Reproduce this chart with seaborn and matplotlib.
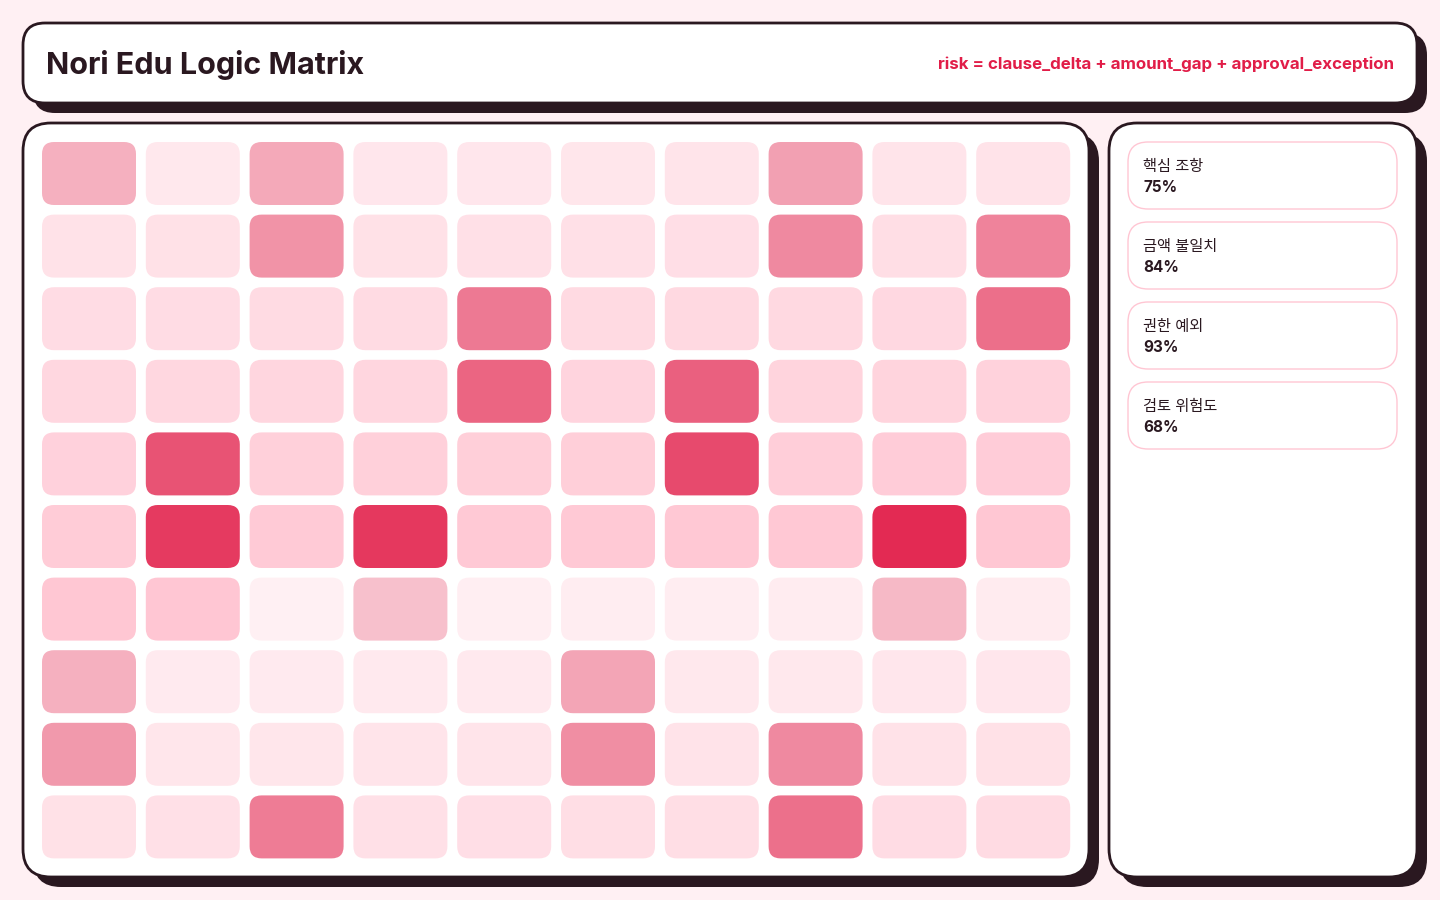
#logic matrix card: 10x10 grid of rounded cells shaded by risk score, with a side panel of summary rates
import numpy as np
import pandas as pd
import matplotlib.pyplot as plt
import seaborn as sns
from matplotlib.patches import FancyBboxPatch
from matplotlib.colors import to_rgb

sns.set_theme(style="white")
plt.rcParams["font.family"] = ["Inter", "Noto Sans CJK KR", "DejaVu Sans"]

#risk score per cell (percent), rows top to bottom
risk_rows = [
    [35, 21, 38, 22, 22, 23, 24, 42, 24, 25],
    [26, 27, 48, 27, 28, 28, 29, 52, 30, 55],
    [31, 31, 32, 32, 59, 33, 34, 34, 35, 64],
    [36, 36, 37, 37, 68, 38, 70, 39, 39, 40],
    [41, 76, 42, 42, 43, 43, 80, 44, 45, 45],
    [46, 87, 47, 88, 48, 48, 49, 49, 94, 50],
    [50, 51, 14, 28, 15, 16, 16, 17, 31, 18],
    [35, 19, 19, 20, 20, 40, 21, 21, 22, 22],
    [45, 23, 23, 24, 24, 50, 25, 52, 26, 27],
    [27, 28, 58, 28, 29, 30, 30, 63, 31, 32],
]

#cells flagged as exceptions (row, col), drawn in crimson
flagged = [(0, 0), (0, 2), (0, 7), (1, 2), (1, 7), (1, 9), (2, 4), (2, 9),
           (3, 4), (3, 6), (4, 1), (4, 6), (5, 1), (5, 3), (5, 8), (6, 3),
           (6, 8), (7, 0), (7, 5), (8, 0), (8, 5), (8, 7), (9, 2), (9, 7)]

#side panel summary
summary_labels = ["핵심 조항", "금액 불일치", "권한 예외", "검토 위험도"]
summary_values = [75, 84, 93, 68]

title = "Nori Edu Logic Matrix"
formula = "risk = clause_delta + amount_gap + approval_exception"

BG = "#fff0f3"
INK = "#2a1820"
CRIMSON = "#e11d48"
PINK = "#ff8fa8"
CARD_EDGE = "#ffc6d3"

risk = pd.DataFrame(risk_rows) / 100.0
flag_mask = np.zeros(risk.shape, dtype=bool)
for r, c in flagged:
    flag_mask[r, c] = True

#two blended ramps from white, one for normal cells and one for flagged cells
base_pal = sns.blend_palette(["#ffffff", PINK], n_colors=101)
hot_pal = sns.blend_palette(["#ffffff", CRIMSON], n_colors=101)

fig = plt.figure(figsize=(14.4, 9), dpi=100)
fig.patch.set_facecolor(BG)

#background layer in pixel coordinates for the cards
bg = fig.add_axes([0, 0, 1, 1])
bg.set_xlim(0, 1440)
bg.set_ylim(900, 0)
bg.axis("off")


def card(ax, x, y, w, h, rad, shadow=10, lw=2):
    if shadow:
        ax.add_patch(FancyBboxPatch((x + shadow, y + shadow), w, h,
                                    boxstyle=f"round,pad=0,rounding_size={rad}",
                                    fc=INK, ec="none", zorder=1))
    ax.add_patch(FancyBboxPatch((x, y), w, h,
                                boxstyle=f"round,pad=0,rounding_size={rad}",
                                fc="white", ec=INK, lw=lw, zorder=2))


card(bg, 23, 23, 1394, 80, 22)
card(bg, 23, 123, 1066, 754, 28)
card(bg, 1109, 123, 308, 754, 28)

bg.text(46, 65, title, fontsize=22, fontweight="bold", color=INK,
        va="center", ha="left", zorder=3)
bg.text(1394, 64, formula, fontsize=12.2, fontweight="bold", color=CRIMSON,
        va="center", ha="right", zorder=3)

#side summary cards
for i, (lab, val) in enumerate(zip(summary_labels, summary_values)):
    top = 142 + i * 80
    bg.add_patch(FancyBboxPatch((1128, top), 269, 67,
                                boxstyle="round,pad=0,rounding_size=20",
                                fc="white", ec=CARD_EDGE, lw=1, zorder=3))
    bg.text(1143, top + 25, lab, fontsize=11, color=INK, va="center",
            ha="left", zorder=4)
    bg.text(1143, top + 46, f"{val}%", fontsize=11, fontweight="bold",
            color=INK, va="center", ha="left", zorder=4)

#matrix axes, one data unit per cell pitch
pitch_x, pitch_y = 103.8, 72.6
cell_w, cell_h = 94 / pitch_x, 63 / pitch_y
left_px = 42 - (pitch_x - 94) / 2
top_px = 142 - (pitch_y - 63) / 2
ax = fig.add_axes([left_px / 1440, 1 - (top_px + 10 * pitch_y) / 900,
                   10 * pitch_x / 1440, 10 * pitch_y / 900])
ax.set_xlim(0, 10)
ax.set_ylim(10, 0)
ax.axis("off")
ax.patch.set_alpha(0)

n_rows, n_cols = risk.shape
for r in range(n_rows):
    for c in range(n_cols):
        v = risk.iloc[r, c]
        pal = hot_pal if flag_mask[r, c] else base_pal
        color = to_rgb(pal[int(round(v * 100))])
        ax.add_patch(FancyBboxPatch(
            (c + (1 - cell_w) / 2, r + (1 - cell_h) / 2), cell_w, cell_h,
            boxstyle="round,pad=0,rounding_size=0.116",
            mutation_aspect=pitch_x / pitch_y,
            fc=color, ec="none"))

fig.savefig("out.png", dpi=100, facecolor=BG)
